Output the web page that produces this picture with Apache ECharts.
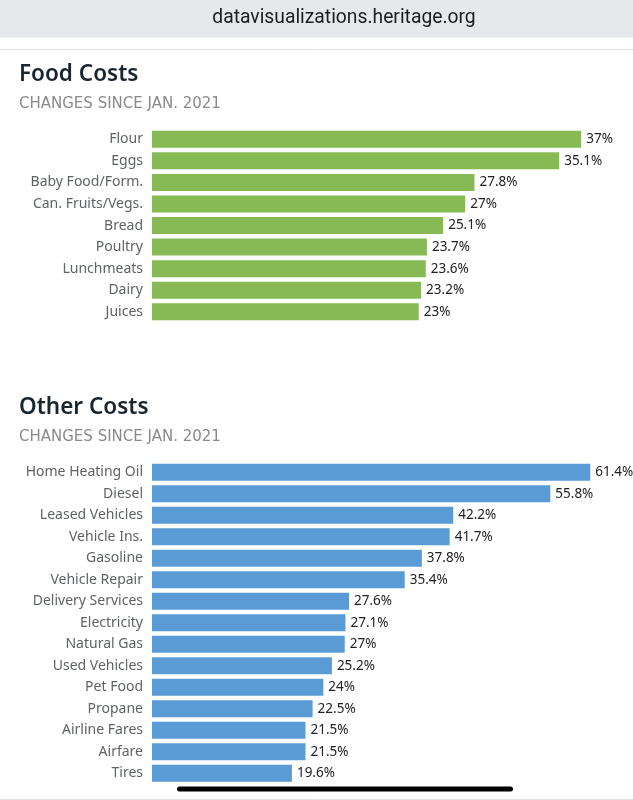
<!DOCTYPE html>
<html>
<head>
<meta charset="utf-8">
<title>Food Costs / Other Costs</title>
<script src="https://cdn.jsdelivr.net/npm/echarts@6/dist/echarts.min.js"></script>
<style>
    html, body { margin: 0; padding: 0; background: #fff; }
    #main { width: 633px; height: 800px; }
</style>
</head>
<body>
<div id="main"></div>
<script>
// 食品价格变化 (自 2021 年 1 月)
var foodNames = ['Flour', 'Eggs', 'Baby Food/Form.', 'Can. Fruits/Vegs.', 'Bread', 'Poultry', 'Lunchmeats', 'Dairy', 'Juices'];
var foodValues = [37, 35.1, 27.8, 27, 25.1, 23.7, 23.6, 23.2, 23];

// 其他价格变化
var otherNames = ['Home Heating Oil', 'Diesel', 'Leased Vehicles', 'Vehicle Ins.', 'Gasoline', 'Vehicle Repair',
    'Delivery Services', 'Electricity', 'Natural Gas', 'Used Vehicles', 'Pet Food', 'Propane',
    'Airline Fares', 'Airfare', 'Tires'];
var otherValues = [61.4, 55.8, 42.2, 41.7, 37.8, 35.4, 27.6, 27.1, 27, 25.2, 24, 22.5, 21.5, 21.5, 19.6];

var subText = 'CHANGES SINCE JAN. 2021';

window.onload = function () {
    var myChart = echarts.init(document.getElementById('main'), null, { renderer: 'canvas' });

    var labelStyle = {
        color: '#5f6266',
        fontSize: 14,
        fontFamily: 'Noto Sans',
        margin: 9
    };

    var valueLabel = {
        show: true,
        position: 'right',
        distance: 5,
        color: '#222',
        fontSize: 13.5,
        fontFamily: 'Noto Sans',
        formatter: '{c}%'
    };

    var titleStyle = { fontFamily: 'Noto Sans', fontSize: 22.5, fontWeight: 600, color: '#1b2530' };
    var subStyle = { fontFamily: 'DejaVu Sans', fontSize: 15, fontWeight: 'normal', color: '#8a8a8a' };

    var option = {
        backgroundColor: '#fff',
        animation: false,
        title: [
            { text: 'Food Costs', left: 14, top: 58, textStyle: titleStyle },
            { text: subText, left: 14, top: 91.5, textStyle: subStyle },
            { text: 'Other Costs', left: 14, top: 391, textStyle: titleStyle },
            { text: subText, left: 14, top: 424.5, textStyle: subStyle }
        ],
        // 浏览器地址栏和底部指示条
        graphic: [
            { type: 'rect', shape: { x: 0, y: 0, width: 633, height: 37.5 }, style: { fill: '#e6e8eb' }, silent: true },
            {
                type: 'text', x: 344, y: 18,
                style: {
                    text: 'datavisualizations.heritage.org', fill: '#1c1c1e',
                    font: '19.3px Roboto', align: 'center', verticalAlign: 'middle'
                }
            },
            { type: 'line', shape: { x1: 0, y1: 49.5, x2: 633, y2: 49.5 }, style: { stroke: '#e2e2e2', lineWidth: 1 } },
            { type: 'rect', shape: { x: 177, y: 786.5, width: 336, height: 5, r: 2.5 }, style: { fill: '#000' } },
            { type: 'line', shape: { x1: 0, y1: 799.5, x2: 633, y2: 799.5 }, style: { stroke: '#e2e2e2', lineWidth: 1 } }
        ],
        grid: [
            { left: 152, top: 128.5, width: 464, height: 194.1 },
            { left: 152, top: 461.5, width: 464, height: 322.5 }
        ],
        xAxis: [
            { type: 'value', gridIndex: 0, min: 0, max: 40, show: false },
            { type: 'value', gridIndex: 1, min: 0, max: 65, show: false }
        ],
        yAxis: [
            {
                type: 'category', gridIndex: 0, data: foodNames, inverse: true,
                axisLine: { show: false }, axisTick: { show: false }, splitLine: { show: false },
                axisLabel: labelStyle
            },
            {
                type: 'category', gridIndex: 1, data: otherNames, inverse: true,
                axisLine: { show: false }, axisTick: { show: false }, splitLine: { show: false },
                axisLabel: labelStyle
            }
        ],
        series: [
            {
                name: 'Food Costs',
                type: 'bar',
                xAxisIndex: 0,
                yAxisIndex: 0,
                data: foodValues,
                barWidth: 17,
                itemStyle: { color: '#87ba55' },
                label: valueLabel
            },
            {
                name: 'Other Costs',
                type: 'bar',
                xAxisIndex: 1,
                yAxisIndex: 1,
                data: otherValues,
                barWidth: 17,
                itemStyle: { color: '#5a9bd6' },
                label: valueLabel
            }
        ]
    };

    myChart.setOption(option);
};
</script>
</body>
</html>
